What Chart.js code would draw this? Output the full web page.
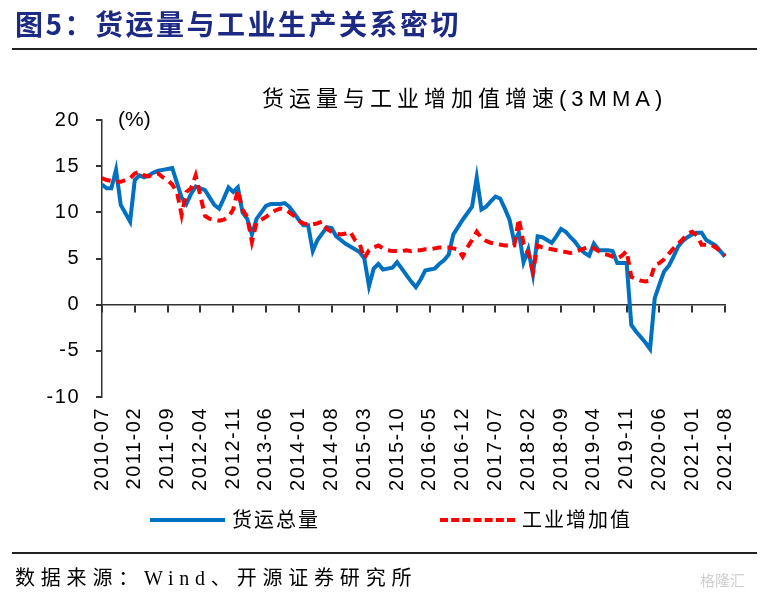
<!DOCTYPE html>
<html>
<head>
<meta charset="utf-8">
<script src="https://cdn.jsdelivr.net/npm/chart.js@4/dist/chart.umd.min.js"></script>
<style>
  body { margin: 0; background: #fff; }
  #page { position: relative; width: 773px; height: 597px; overflow: hidden; font-family: "Noto Sans CJK SC", sans-serif; }
  #page div { position: absolute; line-height: 1; white-space: nowrap; }
  #chart { position: absolute; left: 0; top: 0; }
  .rule { height: 0; border-top: 2px solid #222; }
  .lg-line { width: 75px; height: 0; }
</style>
</head>
<body>
<div id="page">
  <canvas id="chart" width="773" height="597"></canvas>
  <div style="left:15px; top:9px; font-size:28px; font-weight:bold; color:#1c2a84; letter-spacing:2.5px;">图5：货运量与工业生产关系密切</div>
  <div class="rule" style="left:12px; top:48px; width:745px;"></div>
  <div style="left:262px; top:85px; font-size:22px; letter-spacing:5px;">货运量与工业增加值增速<span style="font-family:Arial">(3MMA)</span></div>
  <div style="left:118px; top:108px; font-size:21px; font-family:Arial;">(%)</div>
  <div class="lg-line" style="left:150px; top:518px; border-top:4px solid #0070C0;"></div>
  <div style="left:232px; top:509px; font-size:20px; letter-spacing:2px;">货运总量</div>
  <div class="lg-line" style="left:440px; top:518px; border-top:4px dashed #FF0000;"></div>
  <div style="left:522px; top:509px; font-size:20px; letter-spacing:2px;">工业增加值</div>
  <div class="rule" style="left:12px; top:552px; width:745px;"></div>
  <div style="left:15px; top:567px; font-size:20px; letter-spacing:5.8px;">数据来源：<span style="font-family:'Liberation Serif'">Wind</span>、开源证券研究所</div>
  <div style="left:700px; top:572px; font-size:15px; color:#d0d0d0;">格隆汇</div>
</div>
<script>
// monthly, 2010-07 .. 2021-08
var months = [];
for (var y = 2010, m = 7; y < 2021 || (y == 2021 && m <= 8); m++) {
  if (m > 12) { m = 1; y++; }
  if (y == 2021 && m > 8) break;
  months.push(y + "-" + (m < 10 ? "0" + m : m));
}

var freight = [
  13.0, 12.6, 12.6, 14.6, 10.8, 9.9, 9.0, 13.5, 14.0, 13.8,
  14.0, 14.3, 14.5, 14.6, 14.7, 14.8, 13.2, 11.6, 10.9, 12.0,
  12.8, 12.6, 12.4, 11.6, 10.8, 10.4, 11.5, 12.7, 12.2, 12.7,
  10.0, 9.3, 7.6, 9.3, 10.0, 10.7, 10.9, 10.9, 10.9, 11.0,
  10.6, 9.9, 9.2, 8.6, 8.6, 5.8, 7.0, 7.7, 8.4, 8.3,
  7.4, 7.0, 6.6, 6.3, 6.0, 5.7, 5.0, 2.0, 3.9, 4.4,
  3.8, 3.9, 4.0, 4.6, 3.9, 3.2, 2.5, 1.9, 2.7, 3.7,
  3.8, 3.9, 4.4, 4.8, 5.4, 7.6, 8.4, 9.2, 9.9, 10.6,
  13.8, 10.3, 10.6, 11.2, 11.7, 11.5, 10.4, 9.2, 6.8, 7.8,
  4.6, 6.0, 3.3, 7.4, 7.3, 7.0, 6.7, 7.4, 8.2, 7.9,
  7.3, 6.8, 6.1, 5.6, 5.3, 6.6, 5.9, 5.9, 5.9, 5.8,
  4.5, 4.5, 4.5, -2.2, -2.9, -3.5, -4.1, -4.8, 0.7, 2.2,
  3.6, 4.2, 5.2, 6.3, 6.9, 7.3, 7.6, 7.8, 7.8, 7.0,
  6.7, 6.4, 5.8, 5.2
];

var industry = [
  13.7, 13.5, 13.4, 13.3, 13.3, 13.5, 13.7, 14.2, 14.4, 14.0,
  13.9, 14.1, 14.2, 13.8, 13.5, 13.0, 12.2, 9.7, 12.2, 12.6,
  14.0, 11.8, 9.6, 9.3, 9.2, 9.1, 9.2, 9.5, 10.3, 12.4,
  10.3, 9.5, 6.8, 8.9, 9.2, 9.5, 9.9, 10.2, 10.4, 10.3,
  10.0, 9.6, 9.1, 8.8, 8.7, 8.7, 8.8, 9.0, 8.2, 7.9,
  7.7, 7.6, 7.7, 7.9, 7.0, 6.6, 5.0, 5.9, 6.2, 6.4,
  6.1, 5.9, 5.8, 5.8, 5.8, 5.9, 5.8, 5.9, 5.9, 6.0,
  6.0, 6.1, 6.2, 6.2, 6.2, 6.1, 6.0, 5.2, 6.2, 7.0,
  7.9, 7.2, 6.9, 6.7, 6.6, 6.5, 6.4, 6.4, 6.4, 9.3,
  6.6, 5.6, 3.6, 6.4, 6.2, 6.1, 6.0, 5.9, 5.8, 5.7,
  5.6, 5.7, 5.9, 6.1, 6.3, 6.1, 5.8, 5.5, 5.4, 5.2,
  5.0, 5.3, 5.8, 3.0, 2.8, 2.6, 2.5, 2.6, 4.3, 4.5,
  4.9, 5.5, 6.1, 6.6, 7.1, 7.7, 7.9, 7.5, 6.5, 6.5,
  6.5, 6.2, 5.8, 5.3
];

var tickEvery = 7;

var spacing = {
  id: "spacing",
  beforeDraw: function(chart) { chart.ctx.letterSpacing = "1.5px"; },
  afterDraw: function(chart) { chart.ctx.letterSpacing = "0px"; }
};

var ctx = document.getElementById("chart").getContext("2d");

var chart = new Chart(ctx, {
  type: "line",
  data: {
    labels: months,
    datasets: [{
      label: "货运总量",
      data: freight,
      borderColor: "#0070C0",
      borderWidth: 4,
      pointRadius: 0,
      tension: 0,
      order: 1
    }, {
      label: "工业增加值",
      data: industry,
      borderColor: "#FF0000",
      borderWidth: 4,
      borderDash: [9, 6],
      pointRadius: 0,
      tension: 0,
      order: 0
    }]
  },
  options: {
    responsive: false,
    animation: false,
    layout: { padding: { left: 0, top: 120, right: 48, bottom: 100 } },
    plugins: {
      legend: { display: false },
      tooltip: { enabled: false }
    },
    scales: {
      x: {
        position: "bottom",
        grid: { display: false },
        border: { display: false },
        ticks: {
          autoSkip: false,
          minRotation: 90,
          maxRotation: 90,
          padding: 2,
          color: "#000",
          font: { family: "Arial", size: 20 },
          callback: function(v, i) { return i % tickEvery == 0 ? months[i] : ""; }
        },
        afterFit: function(s) { s.height = 100; }
      },
      x0: {
        type: "category",
        position: { y: 0 },
        grid: {
          drawOnChartArea: false,
          tickLength: 7,
          lineWidth: 2,
          tickColor: function(c) { return c.index % tickEvery == 0 ? "#333" : "rgba(0,0,0,0)"; }
        },
        border: { display: true, color: "#333", width: 1.5 },
        ticks: { display: false, autoSkip: false }
      },
      y: {
        min: -10,
        max: 20,
        ticks: {
          stepSize: 5,
          padding: 16,
          color: "#000",
          font: { family: "Arial", size: 20 }
        },
        grid: { drawOnChartArea: false, tickLength: 6, lineWidth: 2, tickColor: "#333" },
        border: { display: true, color: "#333", width: 1.5 },
        afterFit: function(s) { s.width = 102; }
      }
    }
  },
  plugins: [spacing]
});
</script>
</body>
</html>
